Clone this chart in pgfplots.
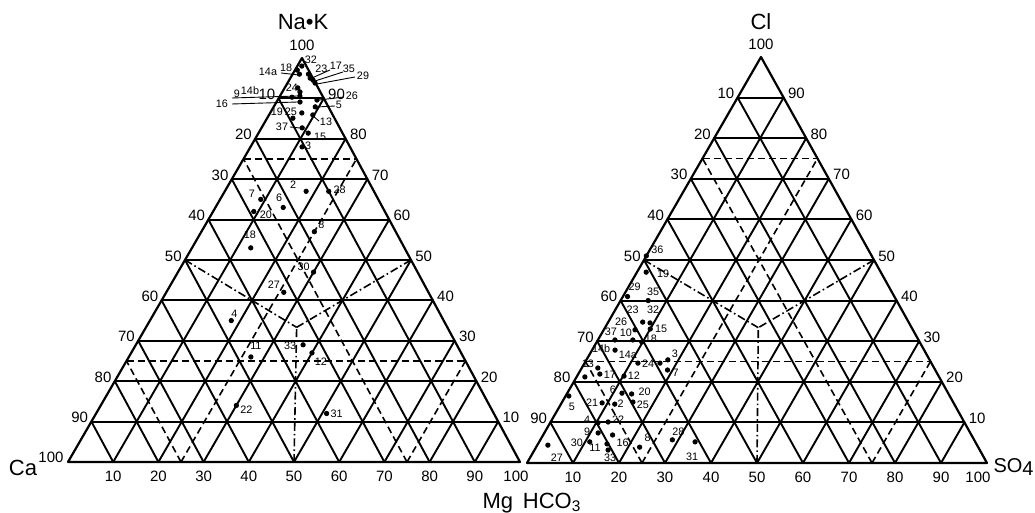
\documentclass[border=0pt]{standalone}
\usepackage{pgfplots}
\pgfplotsset{compat=1.18}
\usepackage{pgfplotstable}
\usepackage{fontspec}
\setmainfont{Liberation Sans}
\newcommand\ptfont{\fontsize{5.4}{6}\selectfont}
\newcommand\tkfont{\fontsize{7.5}{9}\selectfont}
\newcommand\bigfont{\fontsize{11}{13}\selectfont}
% ternary -> picture coordinates (n = apex component, m = bottom-right component)
\newcommand\TXL{68+4.52*(\thisrow{m}+0.5*\thisrow{n})+0.08*\thisrow{n}}
\newcommand\TYL{51+4.04*\thisrow{n}}
\newcommand\TXR{527+4.6*(\thisrow{m}+0.5*\thisrow{n})+0.04*\thisrow{n}}
\newcommand\TYR{50+4.06*\thisrow{n}}
\pgfplotsset{
  gridline/.style={black, line width=0.95pt, no markers, forget plot, line cap=round},
  dashedline/.style={black, line width=0.8pt, dash pattern=on 3.5pt off 2pt, no markers, forget plot},
  dashdotline/.style={black, line width=0.8pt, dash pattern=on 4pt off 1.5pt on 0.8pt off 1.5pt, no markers, forget plot},
}
% grid of a ternary triangle: #1 ox, #2 oy, #3 sx, #4 sy, #5 skew
\newcommand\tgrid[5]{%
 \pgfplotsinvokeforeach{10,20,30,40,50,60,70,80,90}{%
  \addplot[gridline] table[row sep=\\, x expr={#1+#3*(\thisrow{t}*(100-##1)+0.5*##1)+#5*##1}, y expr={#2+#4*##1}]{t\\0\\1\\};
  \addplot[gridline] table[row sep=\\, x expr={#1+#3*(##1+0.5*\thisrow{t}*(100-##1))+#5*\thisrow{t}*(100-##1)}, y expr={#2+#4*\thisrow{t}*(100-##1)}]{t\\0\\1\\};
  \addplot[gridline] table[row sep=\\, x expr={#1+#3*((1-\thisrow{t})*(100-##1)+0.5*\thisrow{t}*(100-##1))+#5*\thisrow{t}*(100-##1)}, y expr={#2+#4*\thisrow{t}*(100-##1)}]{t\\0\\1\\};
 }%
}
\newcommand\segL[5]{\addplot[#1] table[row sep=\\, x expr=\TXL, y expr=\TYL]{n m\\#2 #3\\#4 #5\\};}
\newcommand\segR[5]{\addplot[#1] table[row sep=\\, x expr=\TXR, y expr=\TYR]{n m\\#2 #3\\#4 #5\\};}
\newcommand\lead[4]{\addplot[black, line width=0.45pt, no markers, forget plot] table[row sep=\\]{x y\\#1 #2\\#3 #4\\};}

% cation triangle: n = Na+K %, m = Mg %
\pgfplotstableread{
n m lab dx dy
98 1 32 9 6
97 0.5 18 -11 2
96 3.5 23 13 5
90.3 2.8 24 0 9
85.1 5.7 19 -16 6
86.4 7 25 -11 1
81.4 11 15 12 -4
78 11.4 3 6 1
65 9 7 -9 6
63 15 6 -4 10
67 18 2 -13 7
67 23 28 11 2
62 9 20 12 -3
57 25 8 7 7
53 13 18 -1 13
47 30 30 -10 5
42 26 27 -10 8
35 18 4 3 7
26 27 11 5 11
29 37 33 -13 -1
27 40 12 9 -9
14 30 22 10 -4
12 51 31 10 0
}\ptsL
\pgfplotstableread{
n m
96 1.5
95 4.4
94.5 5.3
93.8 6.1
92.6 2.9
91.6 3.9
90.6 4.4
89.1 5.2
89.6 8.7
87.9 9.2
85.9 9.7
82.7 9
}\clusterL
% anion triangle: n = Cl %, m = SO4 %
\pgfplotstableread{
n m lab dx dy
51 0 36 11 6
47 2 19 17 -2
41 1 29 7 10
40 6 35 5 9
34.7 7.5 23 -10 12
34.5 9.2 32 3 13
33 10 15 11 0
32.8 6.8 26 -14 8
30.3 3.7 37 -4 8
30.3 7.6 10 -7 7
29.8 9.8 18 9 3
27.8 5 14b -14 1
24.6 11.6 14a -10 8
24.6 16.4 24 -12 -1
25.4 17.7 3 7 6
22.9 18.9 7 8 -3
23.4 3.5 13 -10 4
21.9 4.7 17 10 -1
21.4 10.2 12 10 0
17.2 11.9 6 -9 3
17 14.1 20 13 2
16.5 0.7 5 3 -11
14.8 8.8 21 -10 0
14.5 11.7 2 6 0
15 15.4 25 10 -3
9.9 10.4 4 -11 3
10.1 12.5 22 10 2
7.4 11.7 9 -11 1
5.2 11 30 -13 -1
4.7 15 11 -12 -4
6.9 15.1 16 10 -8
3.2 16 33 2 -8
4.4 2.3 27 9 -13
3.9 22.5 8 8 9
5.7 28.7 28 6 8
5.2 33.9 31 -3 -15
}\ptsR
\pgfplotstableread{
n m
21.2 1.8
}\extraR

\begin{document}
\begin{tikzpicture}
\begin{axis}[hide axis, scale only axis, width=517.5pt, height=256.5pt,
  xmin=0, xmax=1035, ymin=0, ymax=513, clip=false]
% ---------- frames and grids ----------
\tgrid{68}{51}{4.52}{4.04}{0.08}
\tgrid{527}{50}{4.6}{4.06}{0.04}
\addplot[gridline, line width=1.1pt, line join=round] table[row sep=\\, x expr=\TXL, y expr=\TYL]{n m\\0 0\\0 100\\100 0\\0 0\\};
\addplot[gridline, line width=1.1pt, line join=round] table[row sep=\\, x expr=\TXR, y expr=\TYR]{n m\\0 0\\0 100\\100 0\\0 0\\};
% ---------- field boundaries ----------
\segL{dashedline}{75}{0}{75}{25}
\segL{dashedline}{25}{0}{25}{75}
\segL{dashedline}{0}{25}{75}{25}
\segL{dashedline}{0}{75}{25}{75}
\segL{dashedline}{0}{25}{25}{0}
\segL{dashedline}{0}{75}{75}{0}
\segL{dashdotline}{50}{0}{33.33}{33.33}
\segL{dashdotline}{50}{50}{33.33}{33.33}
\segL{dashdotline}{0}{50}{33.33}{33.33}
\segR{dashedline}{75}{0}{75}{25}
\segR{dashedline}{25}{0}{25}{75}
\segR{dashedline}{0}{25}{75}{25}
\segR{dashedline}{0}{75}{25}{75}
\segR{dashedline}{0}{25}{25}{0}
\segR{dashedline}{0}{75}{75}{0}
\segR{dashdotline}{50}{0}{33.33}{33.33}
\segR{dashdotline}{50}{50}{33.33}{33.33}
\segR{dashdotline}{0}{50}{33.33}{33.33}
% ---------- samples ----------
\addplot[only marks, mark=*, mark size=1.1pt, black,
  point meta=explicit symbolic, nodes near coords,
  visualization depends on={\thisrow{dx}\as\mydx},
  visualization depends on={\thisrow{dy}\as\mydy},
  every node near coord/.append style={anchor=center, font=\ptfont, inner sep=0pt, xshift={\mydx*0.5pt}, yshift={\mydy*0.5pt}}]
  table[x expr=\TXL, y expr=\TYL, meta=lab]\ptsL;
\addplot[only marks, mark=*, mark size=1.1pt, black] table[x expr=\TXL, y expr=\TYL]\clusterL;
\addplot[only marks, mark=*, mark size=1.1pt, black,
  point meta=explicit symbolic, nodes near coords,
  visualization depends on={\thisrow{dx}\as\mydx},
  visualization depends on={\thisrow{dy}\as\mydy},
  every node near coord/.append style={anchor=center, font=\ptfont, inner sep=0pt, xshift={\mydx*0.5pt}, yshift={\mydy*0.5pt}}]
  table[x expr=\TXR, y expr=\TYR, meta=lab]\ptsR;
\addplot[only marks, mark=*, mark size=1.1pt, black] table[x expr=\TXR, y expr=\TYR]\extraR;
% leaders of the crowded apex group
\lead{281}{440}{299}{438}
\lead{330}{443}{312}{435}
\lead{343}{441}{315}{432}
\lead{355}{436}{317}{429}
\lead{232}{415}{298}{417}
\lead{232}{409}{298}{411}
\lead{344}{416}{319}{413}
\lead{335}{407}{317}{406}
\lead{319}{392}{313}{397}
\lead{290}{386}{300}{385}
\begin{scope}[every node/.style={font=\ptfont, inner sep=0pt}]
\node at (axis cs:268,441) {14a};
\node at (axis cs:336,447) {17};
\node at (axis cs:349,444) {35};
\node at (axis cs:363,437) {29};
\node at (axis cs:237,419) {9};
\node at (axis cs:250,422) {14b};
\node at (axis cs:222,409) {16};
\node at (axis cs:352,417) {26};
\node at (axis cs:339,408) {5};
\node at (axis cs:326,391) {13};
\node at (axis cs:282,386) {37};
\end{scope}
% ---------- tick labels ----------
\pgfplotsinvokeforeach{10,20,30,40,50,60,70,80,90}{%
  \node[font=\tkfont, anchor=east, inner sep=0.5pt, xshift=-1pt, yshift=2pt] at (axis cs:{68+2.34*#1},{51+4.04*#1}) {\pgfmathtruncatemacro\tl{100-#1}\tl};
  \node[font=\tkfont, anchor=west, inner sep=0.5pt, xshift=1.5pt, yshift=2pt] at (axis cs:{520-2.18*#1},{51+4.04*#1}) {#1};
  \node[font=\tkfont, anchor=north, inner sep=0.5pt, yshift=-4pt] at (axis cs:{68+4.52*#1},51) {#1};
  \node[font=\tkfont, anchor=east, inner sep=0.5pt, xshift=-1pt, yshift=2pt] at (axis cs:{527+2.34*#1},{50+4.06*#1}) {\pgfmathtruncatemacro\tl{100-#1}\tl};
  \node[font=\tkfont, anchor=west, inner sep=0.5pt, xshift=1.5pt, yshift=2pt] at (axis cs:{987-2.26*#1},{50+4.06*#1}) {#1};
  \node[font=\tkfont, anchor=north, inner sep=0.5pt, yshift=-4pt] at (axis cs:{527+4.6*#1},50) {#1};
}
\node[font=\tkfont, anchor=north, inner sep=0.5pt, yshift=-4pt, xshift=-2pt] at (axis cs:520,51) {100};
\node[font=\tkfont, anchor=north, inner sep=0.5pt, yshift=-4pt, xshift=-4.5pt] at (axis cs:987,50) {100};
\node[font=\tkfont, anchor=south, inner sep=0.5pt, yshift=3pt] at (axis cs:302,455) {100};
\node[font=\tkfont, anchor=south, inner sep=0.5pt, yshift=3pt] at (axis cs:761,456) {100};
\node[font=\tkfont, inner sep=0.5pt] at (axis cs:51,56) {100};
% ---------- component names ----------
\node[font=\bigfont] at (axis cs:303,491) {Na•K};
\node[font=\bigfont] at (axis cs:761,491) {Cl};
\node[font=\bigfont] at (axis cs:23,45) {Ca};
\node[font=\fontsize{10}{12}\selectfont, anchor=east, inner sep=0pt] at (axis cs:1034,46) {SO\raisebox{-1.5pt}{4}};
\node[font=\bigfont] at (axis cs:532,10) {Mg\hspace{0.45em}HCO\textsubscript{3}};
\end{axis}
\pgfresetboundingbox
\path (current axis.south west) rectangle (current axis.north east);
\end{tikzpicture}
\end{document}
